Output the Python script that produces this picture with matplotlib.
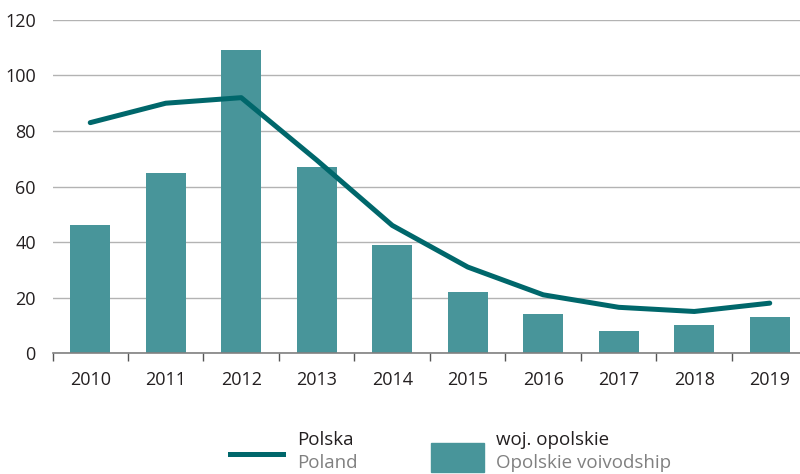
import matplotlib.pyplot as plt
from matplotlib.lines import Line2D
from matplotlib.patches import Rectangle

years = ['2010', '2011', '2012', '2013', '2014', '2015', '2016', '2017', '2018', '2019']
opolskie = [46, 65, 109, 67, 39, 22, 14, 8, 10, 13]
polska = [83, 90, 92, 69.5, 46, 31, 21, 16.5, 15, 18]

bar_color = '#48959a'
line_color = '#00676b'
text_color = '#231f20'

plt.rcParams['font.family'] = ['Open Sans', 'DejaVu Sans']

fig = plt.figure(figsize=(8, 4.74), dpi=100)
ax = fig.add_axes([52.5 / 800, 0.255, 755 / 800, 0.703])

x = list(range(len(years)))
ax.bar(x, opolskie, width=0.53, color=bar_color, zorder=2)
ax.plot(x, polska, color=line_color, lw=3.6, solid_capstyle='round', zorder=3)

ax.set_xlim(-0.5, len(years) - 0.5)
ax.set_ylim(0, 120)
ax.set_yticks(range(0, 121, 20))
ax.grid(axis='y', color='#b3b3b3', lw=1, zorder=0)
ax.set_xticks(x)
ax.set_xticklabels(years)
ax.set_xticks([i - 0.5 for i in range(len(years))], minor=True)
ax.tick_params(axis='x', which='major', length=0, pad=13, labelsize=13, labelcolor=text_color)
ax.tick_params(axis='x', which='minor', length=6, width=1, color='#555555', direction='out')
ax.tick_params(axis='y', length=0, pad=12, labelsize=13, labelcolor=text_color)
for s in ['top', 'right', 'left']:
    ax.spines[s].set_visible(False)
ax.spines['bottom'].set_color('#808080')
ax.spines['bottom'].set_linewidth(1.2)

# legend
W, H = 800, 474
fig.add_artist(Line2D([230 / W, 283 / W], [1 - 454 / H, 1 - 454 / H],
                      color=line_color, lw=3.6, transform=fig.transFigure))
fig.text(297 / W, 1 - 440 / H, 'Polska', fontsize=13.5, color=text_color, va='center')
fig.text(297 / W, 1 - 463 / H, 'Poland', fontsize=13.5, color='#808080', va='center')
fig.add_artist(Rectangle((431 / W, 1 - 472 / H), 53 / W, 29 / H,
                         color=bar_color, transform=fig.transFigure))
fig.text(496 / W, 1 - 440 / H, 'woj. opolskie', fontsize=13.5, color=text_color, va='center')
fig.text(496 / W, 1 - 463 / H, 'Opolskie voivodship', fontsize=13.5, color='#808080', va='center')

fig.savefig('out.png', dpi=100)
